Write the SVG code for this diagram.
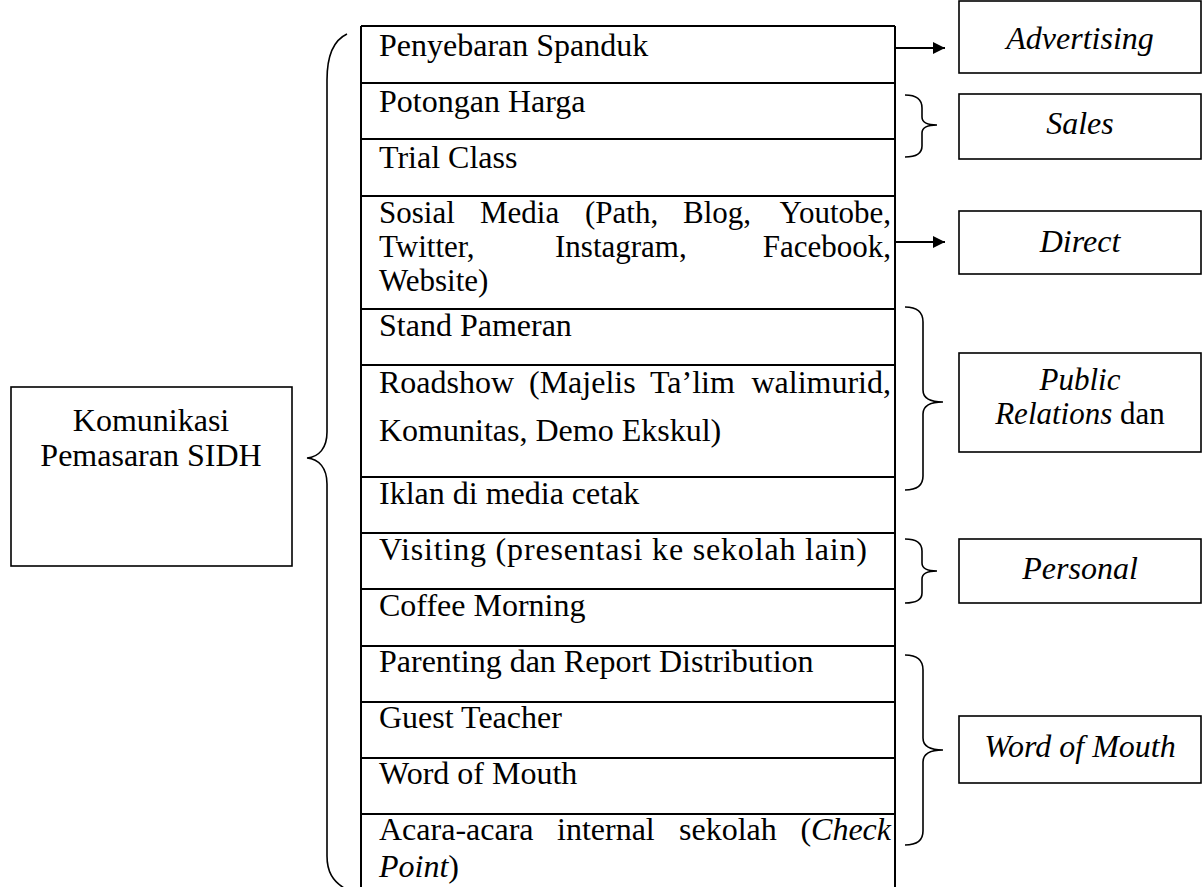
<svg xmlns="http://www.w3.org/2000/svg" width="1202" height="887" viewBox="0 0 1202 887">
<defs>
<style>
text{font-family:"Liberation Serif","Times New Roman",serif;font-size:32px;fill:#000}
.sm{font-size:31px}
.it{font-style:italic}
.c{text-anchor:middle}
.e{text-anchor:end}
.tbl{stroke:#000;stroke-width:2;fill:none}
.box{stroke:#000;stroke-width:1.6;fill:#fff}
.br{stroke:#000;stroke-width:1.6;fill:none}
.ar{stroke:#000;stroke-width:2;fill:none}
</style>
<marker id="ah" viewBox="0 0 10 10" refX="10" refY="5" markerWidth="14" markerHeight="12" markerUnits="userSpaceOnUse" orient="auto">
<path d="M0,0 L10,5 L0,10 z" fill="#000"/>
</marker>
</defs>
<rect width="1202" height="887" fill="#fff"/>

<g id="source">
<rect class="box" x="11" y="387" width="281" height="179"/>
<text class="c" x="151" y="431">Komunikasi</text>
<text class="c" x="151" y="466">Pemasaran SIDH</text>
</g>

<g id="table">
<path class="tbl" d="M361,26 H895 M361,26 V887 M895,26 V887 M361,83 H895 M361,139 H895 M361,196 H895 M361,309 H895 M361,365 H895 M361,477 H895 M361,533 H895 M361,589 H895 M361,646 H895 M361,702 H895 M361,758 H895 M361,814 H895"/>
<g id="row1"><text x="379" y="56">Penyebaran Spanduk</text></g>
<g id="row2"><text x="379" y="112">Potongan Harga</text></g>
<g id="row3"><text x="379" y="168">Trial Class</text></g>
<g id="row4" class="sm">
<text class="sm" x="379" y="223">Sosial</text><text class="sm" x="480" y="223">Media</text><text class="sm" x="585" y="223">(Path,</text><text class="sm" x="683" y="223">Blog,</text><text class="sm e" x="891" y="223">Youtobe,</text>
<text class="sm" x="379" y="257">Twitter,</text><text class="sm" x="555" y="257">Instagram,</text><text class="sm e" x="891" y="257">Facebook,</text>
<text class="sm" x="379" y="291">Website)</text>
</g>
<g id="row5"><text x="379" y="336">Stand Pameran</text></g>
<g id="row6">
<text x="379" y="393">Roadshow</text><text x="529" y="393">(Majelis</text><text x="650" y="393">Ta’lim</text><text class="e" x="891" y="393">walimurid,</text>
<text x="379" y="441">Komunitas, Demo Ekskul)</text>
</g>
<g id="row7"><text x="379" y="504">Iklan di media cetak</text></g>
<g id="row8"><text x="379" y="560" textLength="488" lengthAdjust="spacing">Visiting (presentasi ke sekolah lain)</text></g>
<g id="row9"><text x="379" y="616">Coffee Morning</text></g>
<g id="row10"><text x="379" y="672">Parenting dan Report Distribution</text></g>
<g id="row11"><text x="379" y="728">Guest Teacher</text></g>
<g id="row12"><text x="379" y="784">Word of Mouth</text></g>
<g id="row13">
<text x="379" y="840">Acara-acara</text><text x="557" y="840">internal</text><text x="679" y="840">sekolah</text><text class="e" x="891" y="840">(<tspan class="it">Check</tspan></text>
<text x="379" y="877"><tspan class="it">Point</tspan>)</text>
</g>
</g>

<g id="advertising">
<rect class="box" x="959" y="1" width="242" height="72"/>
<text class="c it" x="1080" y="49">Advertising</text>
</g>
<g id="sales">
<rect class="box" x="959" y="94" width="242" height="65"/>
<text class="c it" x="1080" y="134">Sales</text>
</g>
<g id="direct">
<rect class="box" x="959" y="211" width="242" height="63"/>
<text class="c it" x="1080" y="252">Direct</text>
</g>
<g id="public-relations">
<rect class="box" x="959" y="353" width="242" height="99"/>
<text class="c it sm" x="1080" y="390">Public</text>
<text class="c sm" x="1080" y="424"><tspan class="it">Relations</tspan> dan</text>
</g>
<g id="personal">
<rect class="box" x="959" y="539" width="242" height="64"/>
<text class="c it" x="1080" y="579">Personal</text>
</g>
<g id="word-of-mouth">
<rect class="box" x="959" y="716" width="242" height="67"/>
<text class="c it" x="1080" y="757">Word of Mouth</text>
</g>

<g id="connectors">
<path class="br" d="M347,34 C334,40 327,56 327,80 L327,432 C327,448 319,457 307,458 C319,459 327,468 327,484 L327,856 C327,872 333,881 344,888"/>
<path class="ar" d="M895,48 H945" marker-end="url(#ah)"/>
<path class="ar" d="M895,242 H945" marker-end="url(#ah)"/>
<path class="br" d="M905,95 C916,95 922,99 922,108 L922,117 C922,123 927,125 937,125 C927,125 922,127 922,133 L922,146 C922,153 916,157 905,157"/>
<path class="br" d="M905,307 C917,307 923,312 923,322 L923,390 C923,398 930,402 943,402 C930,402 923,406 923,414 L923,476 C923,486 917,490 905,490"/>
<path class="br" d="M905,539 C916,539 922,543 922,551 L922,563 C922,569 927,571 937,571 C927,571 922,573 922,579 L922,593 C922,600 916,603 905,603"/>
<path class="br" d="M905,655 C917,655 923,660 923,670 L923,738 C923,746 930,750 943,750 C930,750 923,754 923,762 L923,831 C923,841 917,845 905,845"/>
</g>
</svg>
